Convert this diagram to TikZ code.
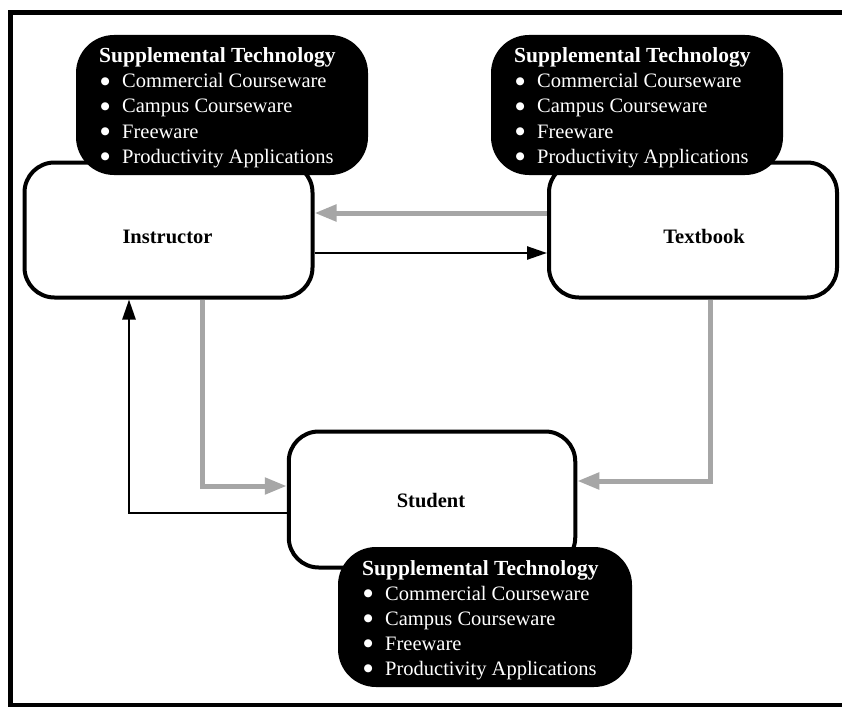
\documentclass[tikz,border=0pt]{standalone}
\usepackage{fontspec}
\setmainfont{Liberation Serif}
\newfontfamily\symfont{DejaVu Sans}
\usetikzlibrary{arrows.meta}
\definecolor{linegray}{HTML}{A6A6A6}
\tikzset{
  mainbox/.style={draw=black, line width=4pt, rounded corners=30pt, fill=white, inner sep=0pt},
  stbox/.style={fill=black, rounded corners=38pt, inner sep=0pt, minimum width=292pt, minimum height=140pt},
  sttitle/.style={anchor=base west, inner sep=0pt, text=white, font=\fontsize{21.5}{25}\selectfont\bfseries},
  stitem/.style={anchor=base west, inner sep=0pt, text=white, font=\fontsize{20.5}{25}\selectfont},
  boxlabel/.style={anchor=base, inner sep=0pt, font=\fontsize{20.5}{25}\selectfont\bfseries},
  garr/.style={draw=linegray, line width=5pt, -{Triangle[length=22pt,width=16pt]}},
  barr/.style={draw=black, line width=2.5pt, -{Triangle[length=20pt,width=13pt]}},
  frame/.style={draw=black, line width=5pt}
}
\newcommand{\bulletmark}{\makebox[23pt][l]{\hspace{1.5pt}\raisebox{3.5pt}{\symfont\fontsize{10.5}{11}\selectfont ●}}}
\newcommand{\STlines}[3]{%
  \node[sttitle] (#1-0) at (#2,#3) {Supplemental Technology};
  \foreach \itm [count=\i] in {Commercial Courseware, Campus Courseware, Freeware, Productivity Applications}{
    \node[stitem] (#1-\i) at (#2,#3+25*\i) {\bulletmark\itm};
  }%
}
\begin{document}
\begin{tikzpicture}[x=1pt,y=-1pt]
\path[use as bounding box] (0,0) rectangle (842,706);
\clip (0,0) rectangle (842,706);
\fill[white] (0,0) rectangle (842,706);
% outer frame (right and bottom sides run off the page)
\draw[frame] (10.5,12.5) rectangle (846,705);

% main boxes
\node[mainbox, minimum width=288pt, minimum height=135pt] (instr) at (168.5,230) {};
\node[mainbox, minimum width=288pt, minimum height=135pt] (text) at (693,230) {};
\node[mainbox, minimum width=286.5pt, minimum height=136pt] (stud) at (432,499.5) {};

\node[boxlabel] (instrL) at (167.5,243) {Instructor};
\node[boxlabel] (textL) at (704,243) {Textbook};
\node[boxlabel] (studL) at (431,507) {Student};

% supplemental technology boxes
\node[stbox] (stI) at (222,105) {};
\node[stbox] (stT) at (637,105) {};
\node[stbox, minimum width=294pt] (stS) at (485,617) {};
\STlines{stIt}{99}{63}
\STlines{stTt}{514}{63}
\STlines{stSt}{362}{575}

% connectors
\draw[garr] ([yshift=17pt]text.west) -- ([yshift=17pt]instr.east);
\draw[barr] ([yshift=-23pt]instr.east) -- ([yshift=-23pt]text.west);
\draw[garr] ([xshift=33.5pt]instr.south) |- ([yshift=13.5pt]stud.west);
\draw[garr] ([xshift=17pt]text.south) |- ([yshift=18.5pt]stud.east);
\draw[barr] ([yshift=-13.5pt]stud.west) -| ([xshift=-39.5pt]instr.south);
\end{tikzpicture}
\end{document}
